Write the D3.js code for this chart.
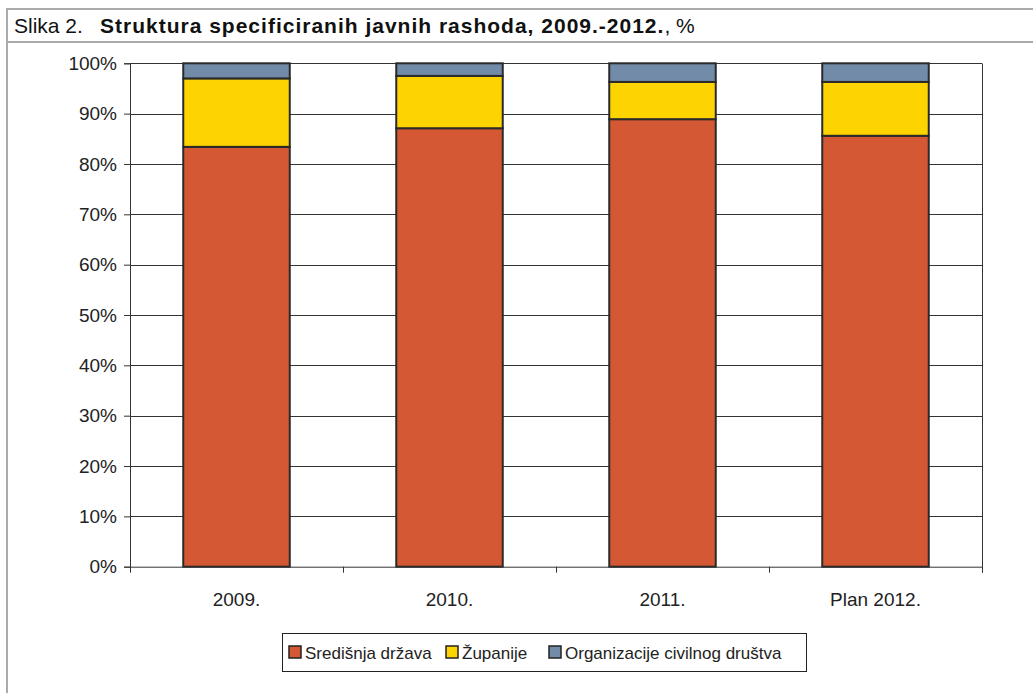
<!DOCTYPE html>
<html>
<head>
<meta charset="utf-8">
<script src="https://cdn.jsdelivr.net/npm/d3@7"></script>
<style>
  body { margin: 0; background: #fff; }
  svg { display: block; }
</style>
</head>
<body>
<svg></svg>
<script>
const w = 1033;
const h = 693;

// data
const categories = ['2009.', '2010.', '2011.', 'Plan 2012.'];
const seriesNames = ['Središnja država', 'Županije', 'Organizacije civilnog društva'];
const sredisnja = [83.4, 87.1, 88.9, 85.6];
const zupanije = [13.6, 10.4, 7.4, 10.7];
const organizacije = [3.0, 2.5, 3.7, 3.7];
const colors = ['#D45833', '#FDD300', '#728BA9'];
const yTicks = [0, 10, 20, 30, 40, 50, 60, 70, 80, 90, 100];

const labelFont = '"Liberation Sans", Arial, sans-serif';

const svg = d3.select('svg')
    .attr('width', w)
    .attr('height', h);

// frame
const frame = '#AAAAAA';
svg.append('line').attr('x1', 7).attr('x2', w).attr('y1', 9).attr('y2', 9)
    .attr('stroke', frame).attr('stroke-width', 2);
svg.append('line').attr('x1', 7).attr('x2', w).attr('y1', 42).attr('y2', 42)
    .attr('stroke', frame).attr('stroke-width', 2);
svg.append('line').attr('x1', 7).attr('x2', 7).attr('y1', 8).attr('y2', h)
    .attr('stroke', frame).attr('stroke-width', 2);

// title
const title = svg.append('text')
    .attr('y', 33)
    .style('font-family', '"Liberation Sans", sans-serif')
    .style('font-size', '21px')
    .attr('fill', '#111');
title.append('tspan').attr('x', 14).text('Slika 2.');
title.append('tspan').attr('x', 100)
    .style('font-weight', 'bold')
    .style('letter-spacing', '1px')
    .text('Struktura specificiranih javnih rashoda, 2009.-2012.');
title.append('tspan').text(', %');

// plot area
const pLeft = 130, pRight = 982, pTop = 63.3, pBottom = 566.7;

const table = categories.map((c, i) => ({
    cat: c,
    [seriesNames[0]]: sredisnja[i],
    [seriesNames[1]]: zupanije[i],
    [seriesNames[2]]: organizacije[i]
}));
const stacked = d3.stack().keys(seriesNames)(table);

const xScale = d3.scaleBand()
    .domain(categories)
    .range([pLeft, pRight])
    .paddingInner(0.5)
    .paddingOuter(0.25);

const yScale = d3.scaleLinear()
    .domain([0, 100])
    .range([pBottom, pTop]);

const lineColor = '#333';

// gridlines
svg.append('g')
    .selectAll('line')
    .data(yTicks.filter(d => d > 0))
    .enter()
    .append('line')
    .attr('x1', pLeft)
    .attr('x2', pRight)
    .attr('y1', d => Math.round(yScale(d)) + 0.5)
    .attr('y2', d => Math.round(yScale(d)) + 0.5)
    .attr('stroke', lineColor)
    .attr('stroke-width', 1);

// right border of plot
svg.append('line')
    .attr('x1', pRight + 0.5).attr('x2', pRight + 0.5)
    .attr('y1', Math.round(pTop) + 0.5).attr('y2', pBottom + 6)
    .attr('stroke', lineColor);

// bars
svg.append('g')
    .selectAll('g')
    .data(stacked)
    .enter()
    .append('g')
    .attr('fill', (d, i) => colors[i])
    .selectAll('rect')
    .data(d => d)
    .enter()
    .append('rect')
    .attr('x', d => xScale(d.data.cat))
    .attr('width', xScale.bandwidth())
    .attr('y', d => yScale(d[1]))
    .attr('height', d => yScale(d[0]) - yScale(d[1]))
    .attr('stroke', '#2a2a2a')
    .attr('stroke-width', 2);

// y axis
const yAxis = d3.axisLeft(yScale)
    .tickValues(yTicks)
    .tickFormat(d => d + '%')
    .tickSize(6)
    .tickPadding(7);

const yg = svg.append('g')
    .attr('transform', 'translate(' + pLeft + ',0)')
    .call(yAxis);

// x axis (ticks at band boundaries)
const xTickScale = d3.scaleLinear()
    .domain([0, categories.length])
    .range([pLeft, pRight]);

const xg = svg.append('g')
    .attr('transform', 'translate(0,' + pBottom + ')')
    .call(d3.axisBottom(xTickScale).ticks(categories.length).tickFormat('').tickSize(6).tickSizeOuter(0));

svg.append('g')
    .selectAll('text')
    .data(categories)
    .enter()
    .append('text')
    .attr('x', d => xScale(d) + xScale.bandwidth() / 2)
    .attr('y', pBottom + 39)
    .attr('text-anchor', 'middle')
    .style('font-family', labelFont)
    .style('font-size', '19px')
    .attr('fill', '#222')
    .text(d => d);

[yg, xg].forEach(g => {
    g.selectAll('.domain').attr('stroke', lineColor);
    g.selectAll('.tick line').attr('stroke', lineColor);
    g.selectAll('text')
        .style('font-family', labelFont)
        .style('font-size', '19px')
        .attr('fill', '#222');
});

// legend
const legend = svg.append('g');
legend.append('rect')
    .attr('x', 282.5).attr('y', 633.5)
    .attr('width', 524).attr('height', 38)
    .attr('fill', '#fff')
    .attr('stroke', '#222');

const legendX = [289, 446, 549];
const items = legend.selectAll('g.item')
    .data(seriesNames)
    .enter()
    .append('g')
    .attr('class', 'item')
    .attr('transform', (d, i) => 'translate(' + legendX[i] + ',646)');

items.append('rect')
    .attr('width', 12).attr('height', 12)
    .attr('fill', (d, i) => colors[i])
    .attr('stroke', '#222')
    .attr('stroke-width', 1.5);

items.append('text')
    .attr('x', 16)
    .attr('y', 12.5)
    .style('font-family', labelFont)
    .style('font-size', '17px')
    .attr('fill', '#222')
    .text(d => d);
</script>
</body>
</html>
